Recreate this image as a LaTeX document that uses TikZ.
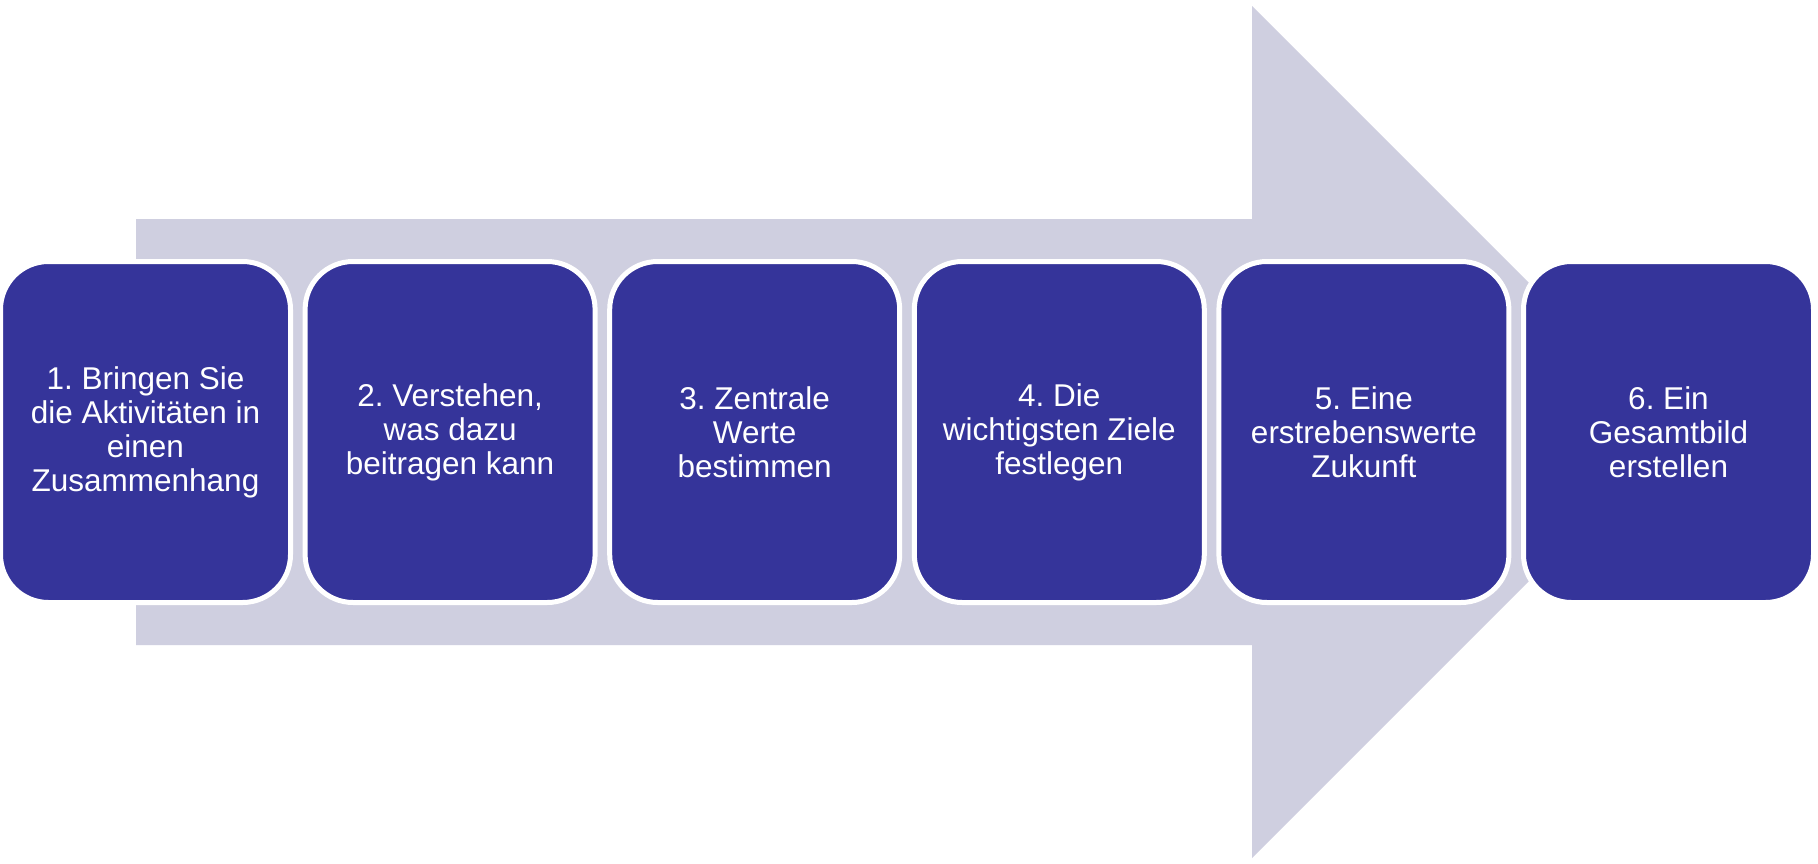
\documentclass[tikz,border=0pt]{standalone}
\usepackage{fontspec}
\setmainfont{Liberation Sans}
\frenchspacing
\definecolor{boxblue}{RGB}{53,52,154}
\definecolor{arrowgray}{RGB}{207,207,224}
\begin{document}
\begin{tikzpicture}[x=1pt,y=-1pt,
  stepbox/.style={fill=boxblue,draw=white,line width=5pt,rounded corners=48pt,
    minimum width=290pt,minimum height=341pt,inner sep=0pt,outer sep=0pt,
    text=white,align=center,font=\fontsize{31.5}{34}\selectfont\frenchspacing}]
\useasboundingbox (0,0) rectangle (1818,863);
\fill[white] (0,0) rectangle (1818,863);
\fill[arrowgray] (136,219) -- (1252,219) -- (1252,6) -- (1678,432) -- (1252,858) -- (1252,645) -- (136,645) -- cycle;
\node[stepbox] (b1) at (145.5,432) {1. Bringen Sie\\die Aktivitäten in\\einen\\Zusammenhang};
\node[stepbox] (b2) at (450.1,432) {2. Verstehen,\\was dazu\\beitragen kann};
\node[stepbox] (b3) at (754.7,432) {3. Zentrale\\Werte\\bestimmen};
\node[stepbox] (b4) at (1059.3,432) {4. Die\\wichtigsten Ziele\\festlegen};
\node[stepbox] (b5) at (1363.9,432) {5. Eine\\erstrebenswerte\\Zukunft};
\node[stepbox] (b6) at (1668.5,432) {6. Ein\\Gesamtbild\\erstellen};
\end{tikzpicture}
\end{document}
